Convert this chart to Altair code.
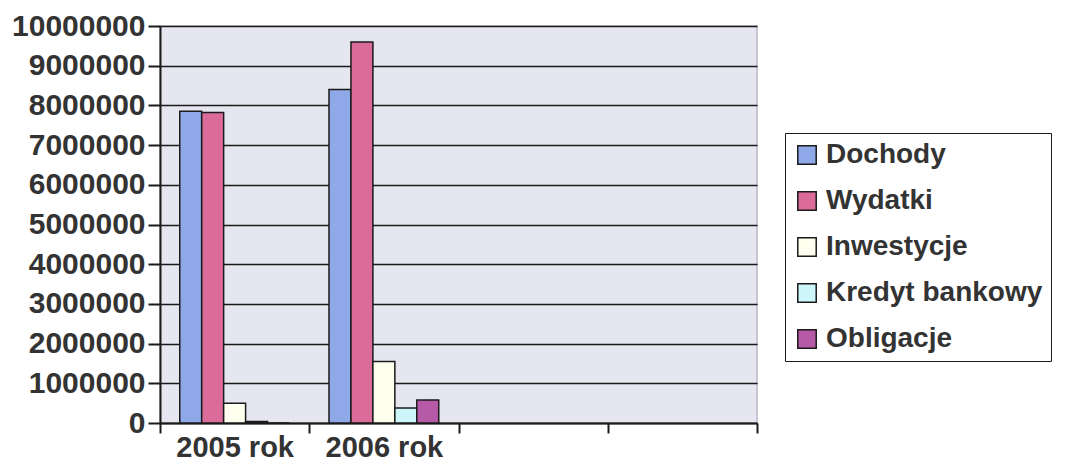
import altair as alt
import pandas as pd

slots = ["2005 rok", "2006 rok", "slot3", "slot4"]
years = ["2005 rok", "2006 rok"]
series = ["Dochody", "Wydatki", "Inwestycje", "Kredyt bankowy", "Obligacje"]
dochody = [7850000, 8400000]
wydatki = [7820000, 9600000]
inwestycje = [500000, 1550000]
kredyt = [40000, 380000]
obligacje = [0, 580000]
colors = ["#8fa8e8", "#db6c9a", "#fffff0", "#cdf6fb", "#b65aa8"]
y_ticks = [0, 1000000, 2000000, 3000000, 4000000, 5000000,
           6000000, 7000000, 8000000, 9000000, 10000000]

rows = []
for name, vals in zip(series, [dochody, wydatki, inwestycje, kredyt, obligacje]):
    for yr, v in zip(years, vals):
        rows.append({"year": yr, "series": name, "value": v})
df = pd.DataFrame(rows)

FONT = "Liberation Sans"

chart = alt.Chart(df).mark_bar(stroke="#1a1a1a", strokeWidth=1.5).encode(
    x=alt.X("year:N",
            scale=alt.Scale(domain=slots, paddingInner=0, paddingOuter=0),
            axis=alt.Axis(title=None, labelAngle=0,
                          labelExpr="datum.value == 'slot3' || datum.value == 'slot4' ? '' : datum.value",
                          tickBand="extent", tickSize=10, tickColor="#1a1a1a", tickWidth=2,
                          domainColor="#1a1a1a", domainWidth=2,
                          labelFont=FONT, labelFontSize=29, labelFontWeight="bold",
                          labelColor="#333333", labelPadding=0)),
    xOffset=alt.XOffset("series:N",
                        scale=alt.Scale(domain=series, paddingInner=0, paddingOuter=0.9)),
    y=alt.Y("value:Q",
            scale=alt.Scale(domain=[0, 10000000], nice=False),
            axis=alt.Axis(title=None, values=y_ticks, format="d",
                          tickSize=12, tickColor="#1a1a1a", tickWidth=2,
                          domainColor="#1a1a1a", domainWidth=2,
                          gridColor="#1a1a1a", gridWidth=1.5,
                          labelFont=FONT, labelFontSize=30, labelFontWeight="bold",
                          labelColor="#333333", labelPadding=3)),
    color=alt.Color("series:N",
                    scale=alt.Scale(domain=series, range=colors),
                    legend=alt.Legend(title=None, orient="none", legendX=625, legendY=107,
                                      strokeColor="#1a1a1a", fillColor="#ffffff",
                                      padding=8, rowPadding=18,
                                      symbolType="square", symbolSize=340,
                                      symbolStrokeColor="#1a1a1a", symbolStrokeWidth=1.5,
                                      labelFont=FONT, labelFontSize=28, labelFontWeight="bold",
                                      labelColor="#333333", labelLimit=400, labelOffset=5)),
).properties(
    width=597, height=397,
    autosize=alt.AutoSizeParams(type="none"),
    padding={"left": 152, "top": 18, "right": 307, "bottom": 40},
    background="#ffffff",
).configure_view(fill="#e6e6f0", stroke="#b8b8c8", strokeWidth=1.5)

chart.save("out.html", embed_options={"renderer": "svg", "actions": False})
